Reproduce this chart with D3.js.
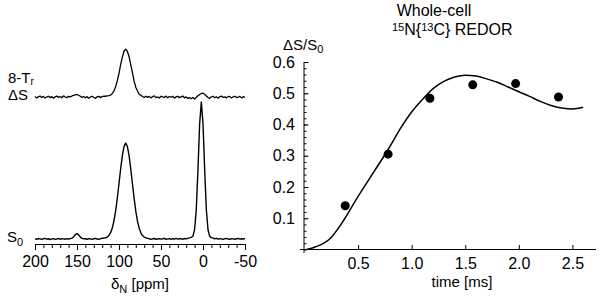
<!DOCTYPE html>
<html>
<head>
<meta charset="utf-8">
<script src="https://cdn.jsdelivr.net/npm/d3@7"></script>
<style>
  body { margin: 0; background: #fff; }
  svg { display: block; font-family: "Liberation Sans", Arial, sans-serif; }
  .axis path, .axis line { stroke: #000; stroke-width: 1; }
  .axis text { font-size: 15px; fill: #000; font-family: "Liberation Sans", Arial, sans-serif; }
</style>
</head>
<body>
<svg id="chart" width="603" height="302"></svg>
<script>
// ---- SPECTRA (left panel), chemical shift in ppm, 2 ppm steps ----
const ppm = [
  200, 198, 196, 194, 192, 190, 188, 186, 184, 182, 180, 178, 176, 174, 172, 170, 168, 166, 164, 162, 160,
  158, 156, 154, 152, 150, 148, 146, 144, 142,
  140, 138, 136, 134, 132, 130, 128, 126, 124, 122, 120, 118,
  116, 114, 112, 110, 108, 106, 104, 102, 100, 98, 96, 94, 92, 90, 88, 86, 84, 82, 80, 78, 76, 74, 72, 70, 68, 66,
  64, 62, 60, 58, 56, 54, 52, 50, 48, 46, 44, 42, 40, 38, 36, 34, 32, 30, 28, 26, 24, 22, 20, 18, 16,
  14, 12, 10, 8, 6, 4, 2, 0, -2, -4, -6, -8, -10,
  -12, -14, -16, -18, -20, -22, -24, -26, -28, -30, -32, -34, -36, -38, -40, -42, -44, -46, -48, -50
];

// S0 spectrum (relative intensity, tallest peak = 100)
const s0 = [
  0.3, -0.2, 0.4, 0.1, -0.3, 0.2, 0.5, -0.1, 0.2, -0.4, 0.1, 0.3, -0.2, 0.0, 0.4, -0.3, 0.2, 0.1, -0.2, 0.3, 0.0,
  0.3, 0.6, 1.5, 3.2, 4.0, 3.0, 1.4, 0.5, 0.1,
  0.2, -0.2, 0.3, 0.1, -0.3, 0.2, 0.4, 0.0, -0.2, 0.3, 0.5, 0.6,
  0.9, 1.4, 2.6, 4.6, 8.0, 13.3, 20.5, 29.8, 40.5, 51.4, 61.0, 67.6, 70.0, 67.4, 60.8, 51.2, 40.3, 29.6, 20.3, 13.0, 7.9, 4.5, 2.5, 1.4, 0.8, 0.5,
  0.2, -0.3, 0.1, 0.4, -0.2, 0.0, 0.3, -0.1, 0.2, 0.5, -0.2, 0.1, 0.3, -0.3, 0.2, 0.0, 0.4, -0.1, 0.2, 0.3, -0.2, 0.4, 0.1, 0.5, 0.8,
  1.2, 2.0, 6.8, 21.5, 50.5, 84.0, 100, 84.2, 50.3, 21.2, 6.6, 1.9, 1.0,
  0.6, 0.2, 0.5, -0.1, 0.3, 0.1, -0.3, 0.2, 0.4, 0.0, -0.2, 0.3, 0.1, -0.3, 0.2, 0.4, -0.1, 0.2, 0.0, 0.3
];

// 8-Tr dephased difference spectrum (same intensity units)
const deltaS = [
  0.4, -0.6, 0.2, 0.8, -0.3, 0.5, -0.7, 0.1, 0.6, -0.4, 0.3, -0.8, 0.2, 0.7, -0.2, 0.4, -0.5, 0.9, 0.0, -0.4, 0.5,
  0.2, 0.8, 1.2, 1.6, 1.9, 1.3, 0.6, -0.2, 0.4,
  -0.5, 0.3, -0.8, 0.1, 0.6, -0.3, -0.9, 0.2, 0.5, -0.4, 0.3, 0.7,
  0.6, 0.9, 1.0, 1.4, 2.6, 4.5, 7.6, 12.1, 17.3, 23.9, 29.2, 33.6, 35.0, 33.3, 29.6, 23.5, 17.8, 11.6, 7.2, 4.4, 2.0, 1.3, 0.4, -0.3, 0.6, -0.2,
  0.5, -0.6, 0.3, 0.8, -0.4, 0.1, -0.7, 0.6, 0.2, -0.3, 0.7, -0.5, 0.4, -0.1, 0.6, -0.8, 0.3, 0.5, -0.4, 0.2, 0.8, -0.6, 0.1, -1.0, -0.4,
  -1.2, -0.3, -1.4, -0.2, 0.9, 1.9, 2.6, 2.8, 2.0, 0.8, -0.3, -0.9, 0.2,
  0.6, -0.5, 0.2, -0.8, 0.4, 0.7, -0.3, 0.1, -0.6, 0.5, 0.3, -0.7, 0.2, 0.6, -0.4, 0.0, 0.5, -0.6, 0.3, -0.2
];
const deltaSOffset = 103.6;   // vertical stacking of the upper trace
const ppmTicks = [200, 150, 100, 50, 0, -50];

// ---- REDOR (right panel) ----
const redorTime  = [0.38, 0.78, 1.17, 1.57, 1.97, 2.37];
const redorValue = [0.14, 0.305, 0.484, 0.527, 0.531, 0.488];

const fitTime  = [0.02, 0.1, 0.24, 0.35, 0.5, 0.65, 0.78, 0.9, 1.0, 1.1, 1.2, 1.3, 1.4, 1.5, 1.6, 1.7, 1.8, 1.9, 2.0, 2.1, 2.2, 2.3, 2.4, 2.5, 2.6];
const fitValue = [0, 0.008, 0.035, 0.085, 0.17, 0.25, 0.32, 0.39, 0.44, 0.48, 0.515, 0.538, 0.552, 0.558, 0.555, 0.546, 0.535, 0.52, 0.505, 0.49, 0.474, 0.461, 0.453, 0.45, 0.455];

const timeTicks = [0.5, 1.0, 1.5, 2.0, 2.5];
const ratioTicks = [0.1, 0.2, 0.3, 0.4, 0.5, 0.6];

const svg = d3.select("#chart");

/* LEFT PANEL */
const xPpm = d3.scaleLinear().domain([200, -50]).range([35, 245]);
const yInt = d3.scaleLinear().domain([0, 100]).range([239, 102]);

const specLine = d3.line()
  .x(d => xPpm(d[0]))
  .y(d => yInt(d[1]));

svg.append("path")
  .datum(ppm.map((p, i) => [p, s0[i]]))
  .attr("d", specLine)
  .attr("fill", "none")
  .attr("stroke", "#000")
  .attr("stroke-width", 1.4)
  .attr("stroke-linejoin", "round");

svg.append("path")
  .datum(ppm.map((p, i) => [p, deltaS[i] + deltaSOffset]))
  .attr("d", specLine)
  .attr("fill", "none")
  .attr("stroke", "#000")
  .attr("stroke-width", 1.3)
  .attr("stroke-linejoin", "round");

// ppm axis: minor ticks every 10, labelled every 50
svg.append("g")
  .attr("class", "axis")
  .attr("transform", "translate(0,244)")
  .call(d3.axisBottom(xPpm).tickValues(d3.range(200, -51, -10)).tickSize(4).tickFormat(""));

svg.append("g")
  .attr("class", "axis")
  .attr("transform", "translate(0,244)")
  .call(d3.axisBottom(xPpm).tickValues(ppmTicks).tickSize(6).tickPadding(6).tickFormat(d => String(d)))
  .call(g => g.select(".domain").remove())
  .selectAll("text").style("font-size", "16px");

const lab = svg.append("text")
  .attr("x", 140).attr("y", 289)
  .attr("text-anchor", "middle")
  .style("font-size", "15px");
lab.append("tspan").text("δ");
lab.append("tspan").attr("dy", 4).style("font-size", "11px").text("N");
lab.append("tspan").attr("dy", -4).text(" [ppm]");

const t1 = svg.append("text").attr("x", 8).attr("y", 83).style("font-size", "15px");
t1.append("tspan").text("8-T");
t1.append("tspan").attr("dy", 2).style("font-size", "10px").text("r");

svg.append("text").attr("x", 8).attr("y", 100).style("font-size", "15px").text("ΔS");

const t2 = svg.append("text").attr("x", 7).attr("y", 242).style("font-size", "15px");
t2.append("tspan").text("S");
t2.append("tspan").attr("dy", 4).style("font-size", "11px").text("0");

/* RIGHT PANEL */
const xT = d3.scaleLinear().domain([0, 2.72]).range([304.5, 596]);
const yR = d3.scaleLinear().domain([0, 0.6]).range([249.5, 62]);

// y axis: minor ticks at 0.02
svg.append("g")
  .attr("class", "axis")
  .attr("transform", "translate(304,0)")
  .call(d3.axisLeft(yR).tickValues(d3.range(0, 0.601, 0.02)).tickSize(-2.5).tickFormat(""))
  .call(g => g.select(".domain").attr("d", "M0,62V253"));

svg.append("g")
  .attr("class", "axis")
  .attr("transform", "translate(304,0)")
  .call(d3.axisLeft(yR).tickValues(ratioTicks).tickSize(-4.5).tickPadding(9).tickFormat(d3.format(".1f")))
  .call(g => g.select(".domain").remove())
  .selectAll("text").style("font-size", "16px");

// x axis
svg.append("g")
  .attr("class", "axis")
  .attr("transform", "translate(0,249.5)")
  .call(d3.axisBottom(xT).tickValues(timeTicks).tickSize(-4.5).tickPadding(8).tickFormat(d3.format(".1f")))
  .call(g => g.select(".domain").attr("d", "M300,0H596"))
  .selectAll("text").style("font-size", "16px");

svg.append("text")
  .attr("x", 462).attr("y", 287)
  .attr("text-anchor", "middle")
  .style("font-size", "15px")
  .text("time [ms]");

const yl = svg.append("text").attr("x", 283).attr("y", 50).style("font-size", "15px");
yl.append("tspan").text("ΔS/S");
yl.append("tspan").attr("dy", 3).style("font-size", "11px").text("0");

svg.append("text")
  .attr("x", 434).attr("y", 16)
  .attr("text-anchor", "middle")
  .style("font-size", "16px")
  .text("Whole-cell");

const tt = svg.append("text").attr("x", 392).attr("y", 35).style("font-size", "16px");
tt.append("tspan").attr("dy", -4).style("font-size", "11px").text("15");
tt.append("tspan").attr("dy", 4).text("N{");
tt.append("tspan").attr("dy", -4).style("font-size", "11px").text("13");
tt.append("tspan").attr("dy", 4).text("C} REDOR");

// fit curve
svg.append("path")
  .datum(fitTime.map((t, i) => [t, fitValue[i]]))
  .attr("d", d3.line().x(d => xT(d[0])).y(d => yR(d[1])).curve(d3.curveMonotoneX))
  .attr("fill", "none")
  .attr("stroke", "#000")
  .attr("stroke-width", 1.5);

// measured points
svg.selectAll("circle.pt")
  .data(redorTime.map((t, i) => ({ t, v: redorValue[i] })))
  .join("circle")
  .attr("class", "pt")
  .attr("cx", d => xT(d.t))
  .attr("cy", d => yR(d.v))
  .attr("r", 4.5)
  .attr("fill", "#000");
</script>
</body>
</html>
